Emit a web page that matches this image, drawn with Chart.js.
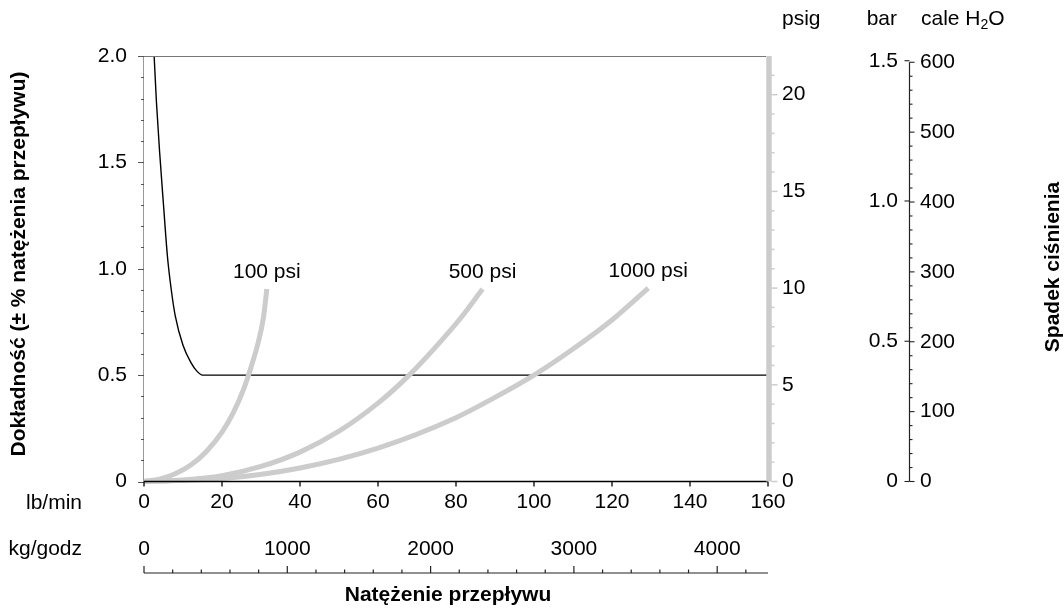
<!DOCTYPE html>
<html><head><meta charset="utf-8">
<script src="https://cdn.jsdelivr.net/npm/chart.js@4/dist/chart.umd.min.js"></script>
<style>html,body{margin:0;padding:0;background:#fff;}#wrap{width:1064px;height:611px;}</style>
</head><body><div id="wrap"><canvas id="c" width="1064" height="611"></canvas></div>
<script>
// ---- data ----
const flowAcc  = [2.6, 3.2, 4.0, 5.0, 6.0, 7.0, 8.0, 10.0, 12.0, 13.5, 15.0, 160];
const accuracy = [2.0, 1.78, 1.55, 1.3, 1.06, 0.9, 0.78, 0.64, 0.56, 0.52, 0.5, 0.5];

const flow100 = [0, 4, 8, 12, 16, 20, 23, 25.5, 27.5, 29.3, 30.6, 31.5];
const psig100 = [0, 0.12, 0.4, 0.85, 1.55, 2.55, 3.6, 4.75, 5.95, 7.2, 8.45, 9.95];

const flow500 = [0, 10, 20, 30, 40, 50, 60, 68, 75, 81, 86.8];
const psig500 = [0, 0.08, 0.3, 0.78, 1.52, 2.6, 4.05, 5.5, 7.0, 8.4, 9.95];

const flow1000 = [0, 20, 40, 60, 80, 90, 100, 110, 120, 129.3];
const psig1000 = [0, 0.15, 0.7, 1.73, 3.3, 4.35, 5.5, 6.85, 8.35, 10.0];

const seriesNames = ['100 psi', '500 psi', '1000 psi'];

// ---- tick labels ----
const flowTicks  = [0, 20, 40, 60, 80, 100, 120, 140, 160];
const kgTicks    = [0, 1000, 2000, 3000, 4000];
const accTicks   = [0, 0.5, 1.0, 1.5, 2.0];
const psigTicks  = [0, 5, 10, 15, 20];
const barTicks   = [0, 0.5, 1.0, 1.5];
const inH2OTicks = [0, 100, 200, 300, 400, 500, 600];

// unit conversions
const KG_PER_LBMIN = 27.2155;
const PSI_PER_BAR = 14.5038;
const INH2O_PER_PSI = 27.68;

const FONT = '"Liberation Sans", Arial, Helvetica, sans-serif';
const FS = 21;
Chart.defaults.font.family = FONT;
Chart.defaults.font.size = FS;
Chart.defaults.color = '#000';

const pts = (xs, ys) => xs.map((x, i) => ({x: x, y: ys[i]}));

function seg(ctx, x1, y1, x2, y2, color, w) {
  ctx.beginPath(); ctx.strokeStyle = color; ctx.lineWidth = w;
  ctx.moveTo(x1, y1); ctx.lineTo(x2, y2); ctx.stroke();
}
function txt(ctx, s, x, y, align, base, font) {
  ctx.font = font || (FS + 'px ' + FONT);
  ctx.fillStyle = '#000'; ctx.textAlign = align; ctx.textBaseline = base;
  ctx.fillText(s, x, y);
}

const deco = {
  id: 'deco',
  afterDraw(chart) {
    const ctx = chart.ctx, ca = chart.chartArea;
    const x = chart.scales.x, y = chart.scales.y, yP = chart.scales.yP;
    ctx.save();
    // frame: top and left
    seg(ctx, ca.left, ca.top + 0.5, ca.right - 2, ca.top + 0.5, '#777', 1);
    seg(ctx, ca.left - 0.5, ca.top, ca.left - 0.5, ca.bottom, '#999', 1);
    // left ticks (major 0.5, minor 0.1)
    for (let i = 0; i <= 20; i++) {
      const py = Math.round(y.getPixelForValue(i / 10)) + 0.5;
      const len = (i % 5 === 0) ? 6 : 3;
      seg(ctx, ca.left - len, py, ca.left, py, '#555', 1);
    }
    // bottom lb/min axis
    seg(ctx, ca.left, ca.bottom, ca.right, ca.bottom, '#000', 1.3);
    flowTicks.forEach(v => {
      const px = x.getPixelForValue(v);
      seg(ctx, px, ca.bottom, px, ca.bottom + 5, '#000', 1.3);
    });
    // psig axis (thick grey)
    const gx = ca.right + 1;
    seg(ctx, gx, ca.top, gx, ca.bottom, '#cccccc', 5.5);
    for (let i = 0; i <= 21; i++) {
      const py = yP.getPixelForValue(i);
      const len = (i % 5 === 0) ? 6 : 3;
      seg(ctx, gx + 2.5, py, gx + 2.5 + len, py, '#cccccc', 1.5);
    }
    // kg/godz axis
    const ky = 573;
    const kx0 = x.getPixelForValue(0), kx1 = x.getPixelForValue(160);
    seg(ctx, kx0, ky, kx1, ky, '#222', 1.2);
    for (let kg = 0; kg <= 4354; kg += 200) {
      const px = x.getPixelForValue(kg / KG_PER_LBMIN);
      const len = (kg % 1000 === 0) ? 7 : 3.5;
      seg(ctx, px, ky, px, ky - len, '#222', 1.2);
    }
    kgTicks.forEach(v => txt(ctx, String(v), x.getPixelForValue(v / KG_PER_LBMIN), 549, 'center', 'middle'));
    txt(ctx, 'lb/min', 82, 503, 'right', 'middle');
    txt(ctx, 'kg/godz', 82, 549, 'right', 'middle');
    // bar / inch H2O axis
    const bx = 909.5;
    const topIn = yP.getPixelForValue(600 / INH2O_PER_PSI);
    seg(ctx, bx, topIn, bx, ca.bottom, '#222', 1.2);
    for (let w = 0; w <= 600; w += 20) {
      const py = yP.getPixelForValue(w / INH2O_PER_PSI);
      const len = (w % 100 === 0) ? 5 : 3;
      seg(ctx, bx, py, bx + len, py, '#222', 1.1);
    }
    inH2OTicks.forEach(v => txt(ctx, String(v), 920, yP.getPixelForValue(v / INH2O_PER_PSI), 'left', 'middle'));
    barTicks.forEach(v => {
      const py = yP.getPixelForValue(v * PSI_PER_BAR);
      seg(ctx, bx - 5, py, bx, py, '#222', 1.1);
      txt(ctx, v === 0 ? '0' : v.toFixed(1), 898, py, 'right', 'middle');
    });
    // headers
    txt(ctx, 'psig', 782, 19, 'left', 'middle');
    txt(ctx, 'bar', 897, 19, 'right', 'middle');
    ctx.font = FS + 'px ' + FONT;
    const w1 = ctx.measureText('cale H').width;
    txt(ctx, 'cale H', 921, 19, 'left', 'middle');
    txt(ctx, '2', 921 + w1, 25, 'left', 'middle', '14px ' + FONT);
    ctx.font = '14px ' + FONT;
    const w2 = ctx.measureText('2').width;
    txt(ctx, 'O', 921 + w1 + w2, 19, 'left', 'middle');
    // series labels
    const ends = [[flow100, psig100], [flow500, psig500], [flow1000, psig1000]];
    ends.forEach((e, i) => {
      const n = e[0].length - 1;
      txt(ctx, seriesNames[i], x.getPixelForValue(e[0][n]), yP.getPixelForValue(e[1][n]) - 17, 'center', 'middle');
    });
    // axis titles
    const BF = 'bold ' + FS + 'px ' + FONT;
    txt(ctx, 'Natężenie przepływu', 448, 595, 'center', 'middle', BF);
    ctx.save(); ctx.translate(19, 264); ctx.rotate(-Math.PI / 2);
    txt(ctx, 'Dokładność (± % natężenia przepływu)', 0, 0, 'center', 'middle', BF);
    ctx.restore();
    ctx.save(); ctx.translate(1053, 267); ctx.rotate(-Math.PI / 2);
    txt(ctx, 'Spadek ciśnienia', 0, 0, 'center', 'middle', BF);
    ctx.restore();
    ctx.restore();
  }
};

const setTicks = arr => (s => { s.ticks = arr.map(v => ({value: v})); });

new Chart(document.getElementById('c'), {
  type: 'line',
  data: {
    datasets: [
      {label: seriesNames[0], data: pts(flow100, psig100), yAxisID: 'yP', borderColor: '#cccccc', borderWidth: 5, pointRadius: 0, cubicInterpolationMode: 'monotone', fill: false, clip: false},
      {label: seriesNames[1], data: pts(flow500, psig500), yAxisID: 'yP', borderColor: '#cccccc', borderWidth: 5, pointRadius: 0, cubicInterpolationMode: 'monotone', fill: false, clip: false},
      {label: seriesNames[2], data: pts(flow1000, psig1000), yAxisID: 'yP', borderColor: '#cccccc', borderWidth: 5, pointRadius: 0, cubicInterpolationMode: 'monotone', fill: false, clip: false},
      {label: 'Dokładność', data: pts(flowAcc, accuracy), yAxisID: 'y', borderColor: '#000', borderWidth: 1.4, pointRadius: 0, cubicInterpolationMode: 'monotone', fill: false}
    ]
  },
  options: {
    responsive: false, animation: false, devicePixelRatio: 1,
    layout: {padding: {top: 56, left: 0, right: 0, bottom: 0}},
    plugins: {legend: {display: false}, tooltip: {enabled: false}, title: {display: false}},
    scales: {
      x: {
        type: 'linear', position: 'bottom', min: 0, max: 160,
        afterBuildTicks: setTicks(flowTicks),
        afterFit: s => { s.height = 129.5; },
        grid: {display: false, drawTicks: false}, border: {display: false},
        ticks: {padding: 8, maxRotation: 0, autoSkip: false, color: '#000', font: {size: FS}}
      },
      y: {
        type: 'linear', position: 'left', min: 0, max: 2,
        afterBuildTicks: setTicks(accTicks),
        afterFit: s => { s.width = 144; },
        grid: {display: false, drawTicks: false}, border: {display: false},
        ticks: {padding: 17, color: '#000', font: {size: FS}, callback: v => v === 0 ? '0' : Number(v).toFixed(1)}
      },
      yP: {
        type: 'linear', position: 'right', min: 0, max: 22,
        afterBuildTicks: setTicks(psigTicks),
        afterFit: s => { s.width = 296; },
        grid: {display: false, drawTicks: false}, border: {display: false},
        ticks: {padding: 14, color: '#000', font: {size: FS}, callback: v => String(v)}
      }
    }
  },
  plugins: [deco]
});
</script>
</body></html>
